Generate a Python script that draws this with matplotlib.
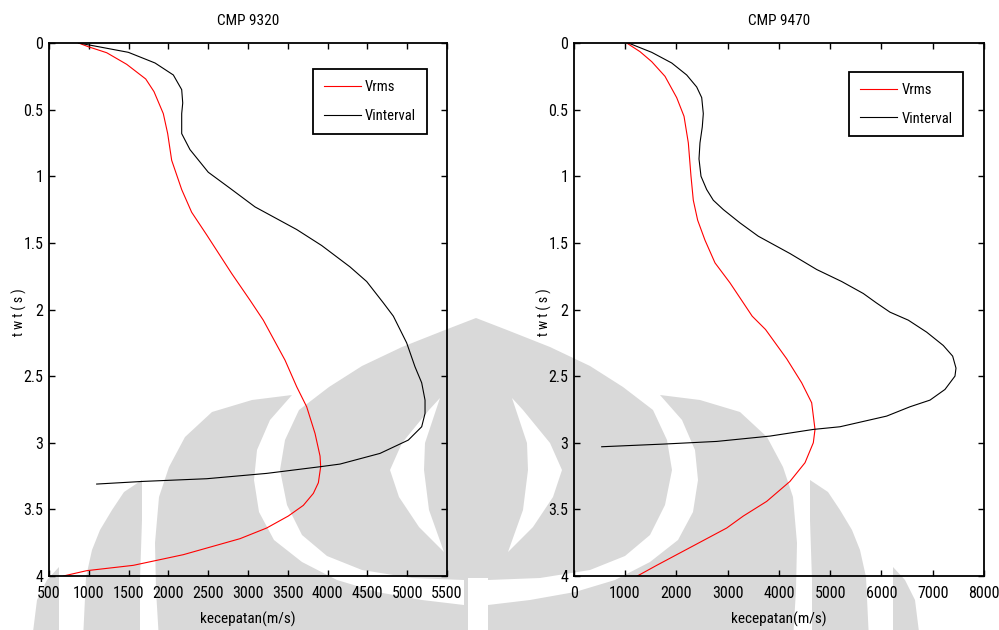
import matplotlib
matplotlib.use("Agg")
import matplotlib.pyplot as plt
from matplotlib.patches import Polygon
from matplotlib.ticker import FormatStrFormatter, MultipleLocator

plt.rcParams['font.family'] = ['Roboto Condensed', 'Liberation Sans Narrow',
                               'Liberation Sans', 'DejaVu Sans']

# ---- CMP 9320 ----
t_rms_9320 = [0, 0.028, 0.073, 0.16, 0.27, 0.365, 0.53, 0.68, 0.88, 1.10, 1.27, 1.44,
              1.73, 1.93, 2.08, 2.38, 2.58, 2.73, 2.93, 3.10, 3.18, 3.30, 3.38, 3.47,
              3.55, 3.64, 3.72, 3.84, 3.92, 3.96, 4.0]
v_rms_9320 = [870, 994, 1225, 1476, 1715, 1819, 1936, 1991, 2041, 2167, 2292, 2481,
              2795, 3025, 3192, 3465, 3612, 3737, 3842, 3905, 3913, 3884, 3821, 3695,
              3506, 3234, 2899, 2187, 1559, 974, 680]
t_int_9320 = [0, 0.03, 0.07, 0.15, 0.24, 0.35, 0.45, 0.53, 0.68, 0.80, 0.97, 1.09,
              1.23, 1.40, 1.52, 1.68, 1.79, 1.95, 2.05, 2.25, 2.43, 2.55, 2.68, 2.78,
              2.88, 2.98, 3.08, 3.16, 3.18, 3.23, 3.27, 3.29, 3.31]
v_int_9320 = [870, 1141, 1497, 1832, 2062, 2167, 2180, 2167, 2167, 2271, 2501, 2774,
              3088, 3612, 3926, 4281, 4491, 4700, 4826, 4993, 5098, 5182, 5224, 5224,
              5182, 5014, 4658, 4156, 3905, 3234, 2481, 1685, 1099]

# ---- CMP 9470 ----
t_rms_9470 = [0, 0.065, 0.14, 0.25, 0.41, 0.55, 0.75, 1.0, 1.18, 1.33, 1.48, 1.65,
              1.80, 1.94, 2.05, 2.15, 2.37, 2.55, 2.70, 2.90, 3.0, 3.15, 3.29, 3.44,
              3.55, 3.64, 3.72, 3.84, 3.92, 4.0]
v_rms_9470 = [1033, 1293, 1521, 1780, 2008, 2151, 2235, 2287, 2332, 2417, 2560, 2755,
              3047, 3290, 3480, 3740, 4153, 4445, 4640, 4705, 4672, 4510, 4217, 3763,
              3307, 2983, 2593, 2008, 1618, 1241]
t_int_9470 = [0, 0.07, 0.15, 0.24, 0.33, 0.41, 0.53, 0.63, 0.75, 0.87, 1.0, 1.10,
              1.18, 1.25, 1.35, 1.45, 1.58, 1.70, 1.79, 1.88, 1.95, 2.02, 2.08, 2.17,
              2.27, 2.35, 2.44, 2.50, 2.60, 2.68, 2.73, 2.80, 2.88, 2.90, 2.95, 2.99,
              3.01, 3.03]
v_int_9470 = [1065, 1521, 1911, 2203, 2398, 2496, 2527, 2507, 2462, 2443, 2482, 2593,
              2722, 2917, 3242, 3599, 4217, 4738, 5225, 5647, 5900, 6167, 6524, 6882,
              7206, 7389, 7454, 7434, 7239, 6947, 6557, 6102, 5192, 4672, 3827, 2788,
              1748, 546]

titles = ["CMP 9320", "CMP 9470"]
series_labels = ["Vrms", "Vinterval"]
x_label = "kecepatan(m/s)"
y_label = "t w t ( s )"

W, H = 999, 630
fig = plt.figure(figsize=(W / 100, H / 100), dpi=100)

# ---- faint logo watermark in the page background ----
bg = fig.add_axes([0, 0, 1, 1], zorder=0)
bg.set_xlim(0, W)
bg.set_ylim(H, 0)
bg.axis("off")
GRAY = "#d9d9d9"
CX = 476

def mirror(pts):
    return [(2 * CX - x, y) for x, y in pts]

flame_right = [(476, 318), (507, 330), (550, 347), (590, 366), (623, 387), (653, 410),
               (667, 440), (672, 470), (665, 505), (650, 535), (625, 556), (590, 570),
               (540, 578), (488, 580), (488, 640)]
flame = flame_right + mirror(flame_right)[::-1]
bg.add_patch(Polygon(flame, closed=True, fc=GRAY, ec="none"))

almond = [(512, 398), (523, 410), (550, 443), (562, 470), (553, 497), (533, 527),
          (508, 552), (523, 510), (528, 470), (527, 443)]
petal2 = [(660, 395), (700, 400), (740, 412), (767, 437), (783, 467), (793, 497),
          (797, 543), (796, 590), (793, 640), (488, 640), (488, 605), (530, 600),
          (575, 592), (615, 580), (650, 562), (678, 540), (693, 512), (698, 480),
          (695, 450), (682, 420)]
petal3 = [(810, 480), (828, 492), (840, 510), (852, 530), (860, 550), (866, 577),
          (869, 640), (812, 640), (812, 580), (810, 520)]
petal4 = [(893, 567), (905, 580), (915, 600), (920, 640), (893, 640)]

for shape in (petal2, petal3, petal4):
    bg.add_patch(Polygon(shape, closed=True, fc=GRAY, ec="none"))
    bg.add_patch(Polygon(mirror(shape), closed=True, fc=GRAY, ec="none"))
for shape in (almond, mirror(almond)):
    bg.add_patch(Polygon(shape, closed=True, fc="white", ec="none"))
# white stem at the base of the flame
bg.add_patch(Polygon([(468, 578), (488, 578), (488, 640), (468, 640)],
                     closed=True, fc="white", ec="none"))

# ---- velocity panels ----
panels = [
    dict(rect=[49 / W, 1 - 576 / H, 398 / W, 533 / H], xlim=(500, 5500), xstep=500,
         rms=(v_rms_9320, t_rms_9320), vint=(v_int_9320, t_int_9320),
         leg=(0.950, 0.951), ylab_x=-0.055),
    dict(rect=[573.7 / W, 1 - 576 / H, 410.3 / W, 533 / H], xlim=(0, 8000), xstep=1000,
         rms=(v_rms_9470, t_rms_9470), vint=(v_int_9470, t_int_9470),
         leg=(0.9495, 0.9456), ylab_x=-0.053),
]

for title, p in zip(titles, panels):
    ax = fig.add_axes(p["rect"], zorder=1)
    ax.set_facecolor("none")
    ax.plot(p["rms"][0], p["rms"][1], color="#ff0000", lw=0.8, label=series_labels[0])
    ax.plot(p["vint"][0], p["vint"][1], color="black", lw=0.8, label=series_labels[1])
    ax.set_xlim(*p["xlim"])
    ax.set_ylim(4, 0)
    ax.xaxis.set_major_locator(MultipleLocator(p["xstep"]))
    ax.yaxis.set_major_locator(MultipleLocator(0.5))
    ax.yaxis.set_major_formatter(FormatStrFormatter("%g"))
    ax.tick_params(direction="in", length=4, width=1, top=True, right=True,
                   labelsize=11.5, colors="black")
    ax.tick_params(axis="x", pad=7)
    ax.tick_params(axis="y", pad=4)
    for s in ax.spines.values():
        s.set_linewidth(1.3)
    ax.set_title(title, fontsize=11, pad=13)
    ax.set_xlabel(x_label, fontsize=11)
    ax.xaxis.set_label_coords(0.5, -0.066)
    ax.set_ylabel(y_label, fontsize=10)
    ax.yaxis.set_label_coords(p["ylab_x"], 0.495)
    leg = ax.legend(loc="upper right", bbox_to_anchor=p["leg"], borderaxespad=0,
                    fontsize=10.5, frameon=True, fancybox=False, handlelength=2.5,
                    handletextpad=0.3, labelspacing=1.0, borderpad=0.75)
    fr = leg.get_frame()
    fr.set_edgecolor("black")
    fr.set_linewidth(1.3)
    fr.set_facecolor("white")
    fr.set_alpha(1)

fig.savefig("out.png", dpi=100, facecolor="white")
